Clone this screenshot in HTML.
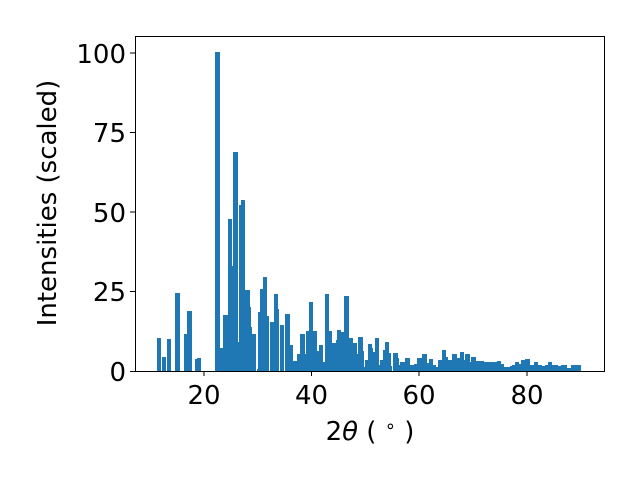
<!DOCTYPE html>
<html><head><meta charset="utf-8"><style>
html,body{margin:0;padding:0;background:#fff;}
svg{display:block;}
text{font-family:"DejaVu Sans","Liberation Sans",sans-serif;fill:#000;}
</style></head><body>
<svg width="640" height="480" viewBox="0 0 640 480" xmlns="http://www.w3.org/2000/svg">
<rect width="640" height="480" fill="#fff"/>
<g fill="#1f77b4" shape-rendering="crispEdges">
<rect x="157" y="338" width="4" height="33"/>
<rect x="162" y="357" width="4" height="14"/>
<rect x="167" y="339" width="4" height="32"/>
<rect x="175" y="293" width="5" height="78"/>
<rect x="184" y="334" width="3" height="37"/>
<rect x="187" y="311" width="5" height="60"/>
<rect x="195" y="359" width="2" height="12"/>
<rect x="197" y="358" width="4" height="13"/>
<rect x="215" y="52" width="5" height="319"/>
<rect x="220" y="348" width="3" height="23"/>
<rect x="223" y="315" width="5" height="56"/>
<rect x="228" y="219" width="4" height="152"/>
<rect x="232" y="266" width="1" height="105"/>
<rect x="233" y="152" width="5" height="219"/>
<rect x="238" y="342" width="1" height="29"/>
<rect x="239" y="205" width="2" height="166"/>
<rect x="241" y="200" width="4" height="171"/>
<rect x="245" y="290" width="5" height="81"/>
<rect x="250" y="307" width="1" height="64"/>
<rect x="251" y="327" width="1" height="44"/>
<rect x="252" y="334" width="4" height="37"/>
<rect x="257" y="369" width="1" height="2"/>
<rect x="258" y="312" width="2" height="59"/>
<rect x="260" y="289" width="3" height="82"/>
<rect x="263" y="277" width="4" height="94"/>
<rect x="267" y="316" width="2" height="55"/>
<rect x="270" y="322" width="4" height="49"/>
<rect x="274" y="294" width="4" height="77"/>
<rect x="278" y="309" width="1" height="62"/>
<rect x="280" y="325" width="4" height="46"/>
<rect x="285" y="314" width="5" height="57"/>
<rect x="290" y="345" width="3" height="26"/>
<rect x="293" y="361" width="4" height="10"/>
<rect x="297" y="354" width="3" height="17"/>
<rect x="300" y="334" width="5" height="37"/>
<rect x="305" y="354" width="1" height="17"/>
<rect x="306" y="331" width="3" height="40"/>
<rect x="309" y="302" width="4" height="69"/>
<rect x="313" y="331" width="4" height="40"/>
<rect x="317" y="351" width="2" height="20"/>
<rect x="319" y="345" width="4" height="26"/>
<rect x="323" y="362" width="2" height="9"/>
<rect x="325" y="294" width="4" height="77"/>
<rect x="329" y="331" width="3" height="40"/>
<rect x="332" y="343" width="4" height="28"/>
<rect x="336" y="340" width="1" height="31"/>
<rect x="337" y="330" width="4" height="41"/>
<rect x="341" y="332" width="3" height="39"/>
<rect x="344" y="296" width="5" height="75"/>
<rect x="349" y="338" width="4" height="33"/>
<rect x="353" y="343" width="4" height="28"/>
<rect x="357" y="354" width="1" height="17"/>
<rect x="358" y="337" width="5" height="34"/>
<rect x="363" y="351" width="1" height="20"/>
<rect x="364" y="367" width="1" height="4"/>
<rect x="365" y="360" width="3" height="11"/>
<rect x="368" y="344" width="4" height="27"/>
<rect x="372" y="348" width="1" height="23"/>
<rect x="373" y="352" width="2" height="19"/>
<rect x="375" y="338" width="4" height="33"/>
<rect x="379" y="365" width="1" height="6"/>
<rect x="380" y="360" width="3" height="11"/>
<rect x="383" y="350" width="2" height="21"/>
<rect x="385" y="342" width="4" height="29"/>
<rect x="389" y="353" width="2" height="18"/>
<rect x="391" y="366" width="1" height="5"/>
<rect x="393" y="353" width="5" height="18"/>
<rect x="398" y="358" width="1" height="13"/>
<rect x="399" y="365" width="1" height="6"/>
<rect x="400" y="362" width="5" height="9"/>
<rect x="405" y="358" width="5" height="13"/>
<rect x="410" y="365" width="4" height="6"/>
<rect x="414" y="364" width="3" height="7"/>
<rect x="417" y="358" width="5" height="13"/>
<rect x="422" y="354" width="5" height="17"/>
<rect x="427" y="363" width="2" height="8"/>
<rect x="429" y="359" width="4" height="12"/>
<rect x="433" y="365" width="3" height="6"/>
<rect x="436" y="367" width="2" height="4"/>
<rect x="438" y="360" width="4" height="11"/>
<rect x="442" y="350" width="4" height="21"/>
<rect x="446" y="357" width="2" height="14"/>
<rect x="448" y="360" width="4" height="11"/>
<rect x="452" y="354" width="5" height="17"/>
<rect x="457" y="358" width="3" height="13"/>
<rect x="460" y="352" width="4" height="19"/>
<rect x="464" y="360" width="1" height="11"/>
<rect x="465" y="354" width="5" height="17"/>
<rect x="470" y="362" width="1" height="9"/>
<rect x="471" y="357" width="5" height="14"/>
<rect x="476" y="361" width="8" height="10"/>
<rect x="484" y="362" width="13" height="9"/>
<rect x="497" y="361" width="4" height="10"/>
<rect x="501" y="364" width="3" height="7"/>
<rect x="504" y="367" width="6" height="4"/>
<rect x="510" y="366" width="2" height="5"/>
<rect x="512" y="365" width="3" height="6"/>
<rect x="515" y="362" width="4" height="9"/>
<rect x="519" y="364" width="2" height="7"/>
<rect x="521" y="360" width="4" height="11"/>
<rect x="525" y="359" width="5" height="12"/>
<rect x="530" y="365" width="4" height="6"/>
<rect x="534" y="362" width="4" height="9"/>
<rect x="538" y="365" width="4" height="6"/>
<rect x="542" y="366" width="3" height="5"/>
<rect x="545" y="365" width="3" height="6"/>
<rect x="548" y="362" width="4" height="9"/>
<rect x="552" y="365" width="6" height="6"/>
<rect x="558" y="366" width="3" height="5"/>
<rect x="561" y="365" width="6" height="6"/>
<rect x="567" y="368" width="4" height="3"/>
<rect x="571" y="365" width="10" height="6"/>
</g>
<rect x="135.5" y="36.5" width="469" height="335" fill="none" stroke="#000" stroke-width="1"/>
<g stroke="#000" stroke-width="1">
<line x1="204" y1="371" x2="204" y2="376"/>
<line x1="311.5" y1="371" x2="311.5" y2="376"/>
<line x1="419" y1="371" x2="419" y2="376"/>
<line x1="527" y1="371" x2="527" y2="376"/>
<line x1="130" y1="371.5" x2="135" y2="371.5"/>
<line x1="130" y1="291.5" x2="135" y2="291.5"/>
<line x1="130" y1="212" x2="135" y2="212"/>
<line x1="130" y1="132.5" x2="135" y2="132.5"/>
<line x1="130" y1="53" x2="135" y2="53"/>
</g>
<g font-size="26" text-anchor="middle">
<text x="204" y="404">20</text>
<text x="311.5" y="404">40</text>
<text x="419" y="404">60</text>
<text x="527" y="404">80</text>
</g>
<g font-size="26" text-anchor="end">
<text x="126" y="381">0</text>
<text x="126" y="301">25</text>
<text x="126" y="222">50</text>
<text x="126" y="142">75</text>
<text x="126" y="63">100</text>
</g>
<text x="370" y="440" font-size="26" text-anchor="middle">2<tspan font-style="italic">θ</tspan> ( <tspan dy="-8" font-size="18">∘</tspan><tspan dy="8"> )</tspan></text>
<text transform="translate(56,203) rotate(-90)" font-size="26" text-anchor="middle">Intensities (scaled)</text>
</svg>
</body></html>
